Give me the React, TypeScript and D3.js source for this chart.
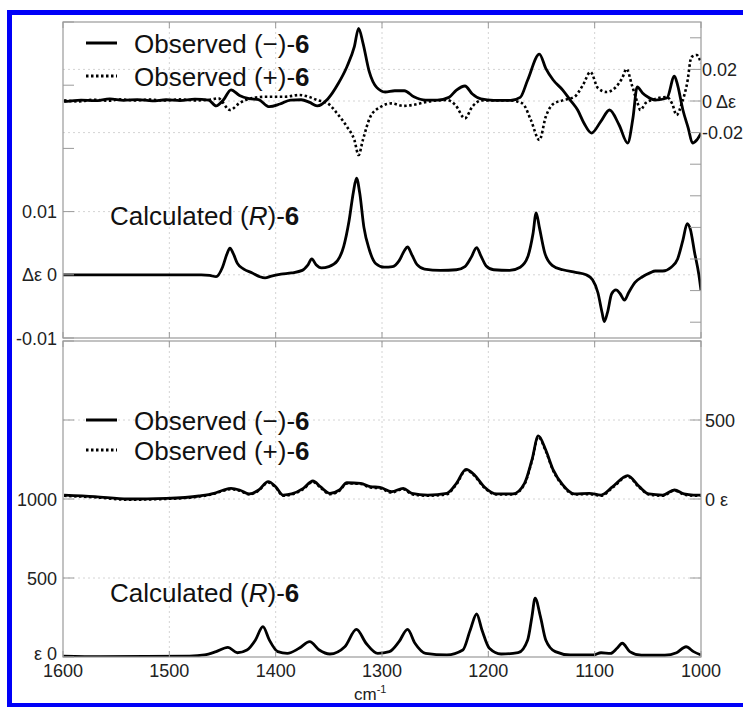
import React from 'react';
import * as d3 from 'd3';

// ---------- data (wavenumber cm-1, value) ----------
const xTicks = [1600, 1500, 1400, 1300, 1200, 1100, 1000];
const cdCalcTicks = [-0.01, 0, 0.01, 0.02, 0.03, 0.04];
const cdObsTicks = [-0.14, -0.12, -0.1, -0.08, -0.06, -0.04, -0.02, 0, 0.02, 0.04];
const irCalcTicks = [0, 500, 1000, 1500, 2000];
const irObsTicks = [-1000, -500, 0, 500, 1000];

const cdCalcLabelVals = [0.01, 0, -0.01];
const cdCalcLabels = ['0.01', 'Δε 0', '-0.01'];
const cdObsLabelVals = [0.02, 0, -0.02];
const cdObsLabels = ['0.02', '0 Δε', '-0.02'];
const irCalcLabelVals = [1000, 500, 0];
const irCalcLabels = ['1000', '500', 'ε 0'];
const irObsLabelVals = [500, 0];
const irObsLabels = ['500', '0 ε'];

const obsMinusCD: [number, number][] = [
  [1599, -0.0004], [1583, 0.0006], [1570, 0.0002], [1556, 0.0013], [1543, 0.0004], [1530, 0.0009],
  [1516, 0.0001], [1503, 0.0008], [1490, 0.0002], [1476, 0.0012], [1463, 0.0006], [1456, -0.0031],
  [1449, 0.0008], [1442, 0.0071], [1434, 0.0035], [1425, 0.0015], [1416, 0.0008], [1406, -0.0036],
  [1396, -0.0019], [1386, 0.0006], [1376, 0.0008], [1368, -0.0009], [1361, -0.0031], [1351, 0.0013],
  [1341, 0.0112], [1333, 0.0217], [1326, 0.0344], [1322, 0.046], [1318, 0.037], [1312, 0.0186],
  [1305, 0.0086], [1297, 0.0057], [1288, 0.0065], [1279, 0.0065], [1270, 0.0027], [1259, 0.0006],
  [1248, 0.0006], [1237, 0.0023], [1230, 0.0069], [1222, 0.0095], [1215, 0.0044], [1207, 0.0013],
  [1195, 0.0004], [1179, 0.0004], [1170, 0.0023], [1163, 0.0133], [1152, 0.0297], [1146, 0.0207],
  [1139, 0.0133], [1130, 0.0069], [1123, 0.0006], [1116, -0.0057], [1110, -0.0141], [1103, -0.0203],
  [1094, -0.0127], [1086, -0.0057], [1077, -0.0152], [1069, -0.0266], [1064, -0.0108], [1060, 0.0089],
  [1055, 0.0051], [1050, 0.0025], [1043, 0.0006], [1032, 0.0019], [1025, 0.0158], [1022, 0.0101],
  [1017, -0.0057], [1012, -0.0171], [1008, -0.0266], [1004, -0.0247], [1000, -0.0203],
];

const obsPlusCD: [number, number][] = [
  [1599, 0.0004], [1585, -0.0003], [1572, 0.0008], [1558, 0.0002], [1545, 0.001], [1532, 0.0004],
  [1518, 0.0009], [1505, 0.0003], [1490, 0.001], [1476, 0.0004], [1462, 0.0008], [1454, 0.0017],
  [1443, -0.0057], [1434, -0.0013], [1423, 0.0017], [1409, 0.0027], [1391, 0.0027], [1378, 0.0038],
  [1369, 0.0027], [1361, 0.0006], [1351, -0.0015], [1341, -0.0089], [1333, -0.0162], [1326, -0.0247],
  [1322, -0.0342], [1318, -0.0247], [1311, -0.01], [1302, -0.004], [1291, -0.0015], [1280, -0.0031],
  [1271, -0.0025], [1257, -0.0004], [1239, 0.0006], [1231, -0.0025], [1222, -0.011], [1215, -0.0035],
  [1206, 0.0004], [1181, 0.0004], [1168, -0.0015], [1160, -0.012], [1152, -0.0247], [1146, -0.01],
  [1139, -0.0019], [1130, 0.0004], [1119, 0.0027], [1111, 0.0101], [1104, 0.0184], [1097, 0.0082],
  [1089, 0.0057], [1081, 0.0082], [1074, 0.0146], [1070, 0.0203], [1065, 0.0101], [1060, -0.0006],
  [1057, -0.0057], [1052, -0.0013], [1043, 0.0013], [1032, 0.0025], [1027, -0.0019], [1023, -0.0089],
  [1018, -0.0013], [1013, 0.0114], [1009, 0.0278], [1004, 0.0291], [1000, 0.024],
];

const calcCD: [number, number][] = [
  [1600, 0], [1470, 0], [1462, -0.0001], [1456, -0.0003], [1450, 0.0012], [1446, 0.0032],
  [1443, 0.0042], [1440, 0.0034], [1436, 0.0018], [1430, 0.0009], [1422, 0.0003], [1415, -0.0003],
  [1410, -0.0005], [1404, -0.0002], [1395, 0.0001], [1385, 0.0003], [1375, 0.0007], [1370, 0.0015],
  [1366, 0.0025], [1362, 0.0016], [1357, 0.0011], [1350, 0.0013], [1342, 0.0022], [1336, 0.0045],
  [1331, 0.0085], [1327, 0.013], [1324, 0.0153], [1321, 0.013], [1317, 0.0075], [1312, 0.004],
  [1306, 0.0018], [1298, 0.0012], [1290, 0.0013], [1284, 0.0022], [1279, 0.0038], [1276, 0.0044],
  [1272, 0.0032], [1267, 0.0016], [1260, 0.0009], [1245, 0.0007], [1230, 0.0008], [1222, 0.0013],
  [1216, 0.0028], [1211, 0.0043], [1207, 0.003], [1202, 0.0014], [1195, 0.0008], [1180, 0.0007],
  [1170, 0.0012], [1163, 0.0028], [1158, 0.0065], [1155, 0.0098], [1152, 0.0075], [1147, 0.0035],
  [1140, 0.0015], [1130, 0.0008], [1118, 0.0004], [1108, 0.0], [1102, -0.0008], [1097, -0.0028],
  [1093, -0.006], [1091, -0.0074], [1088, -0.006], [1084, -0.003], [1080, -0.0024], [1076, -0.003],
  [1072, -0.004], [1068, -0.0028], [1062, -0.0012], [1055, -0.0003], [1048, 0.0003], [1043, 0.0006],
  [1036, 0.0006], [1028, 0.0012], [1022, 0.0025], [1017, 0.0055], [1013, 0.0081], [1010, 0.0072],
  [1006, 0.0035], [1002, 0.0], [1000, -0.0025],
];

const obsMinusIR: [number, number][] = [
  [1599, 25], [1570, 15], [1539, 0], [1503, 4], [1472, 19], [1458, 36], [1449, 57], [1442, 67],
  [1434, 57], [1425, 32], [1416, 57], [1407, 110], [1400, 78], [1393, 25], [1385, 32], [1374, 67],
  [1365, 114], [1358, 78], [1349, 36], [1340, 57], [1333, 103], [1320, 99], [1311, 78], [1302, 74],
  [1291, 46], [1280, 67], [1272, 36], [1257, 25], [1239, 36], [1230, 99], [1221, 188], [1213, 152],
  [1204, 78], [1192, 32], [1177, 32], [1166, 99], [1159, 247], [1153, 399], [1146, 310], [1139, 184],
  [1130, 89], [1119, 32], [1105, 36], [1094, 25], [1083, 78], [1069, 148], [1058, 78], [1049, 32],
  [1036, 25], [1025, 57], [1016, 32], [1007, 25], [1000, 25],
];

const obsPlusIR: [number, number][] = [
  [1599, 20], [1570, 10], [1539, -5], [1503, 0], [1472, 15], [1458, 32], [1449, 52], [1442, 62],
  [1434, 52], [1425, 28], [1416, 52], [1407, 104], [1400, 72], [1393, 20], [1385, 28], [1374, 62],
  [1365, 108], [1358, 72], [1349, 30], [1340, 52], [1333, 98], [1320, 95], [1311, 72], [1302, 68],
  [1291, 40], [1280, 62], [1272, 30], [1257, 20], [1239, 30], [1230, 92], [1221, 182], [1213, 146],
  [1204, 72], [1192, 28], [1177, 28], [1166, 92], [1159, 240], [1153, 392], [1146, 302], [1139, 178],
  [1130, 84], [1119, 28], [1105, 30], [1094, 20], [1083, 72], [1069, 142], [1058, 72], [1049, 28],
  [1036, 20], [1025, 52], [1016, 28], [1007, 20], [1000, 20],
];

const calcIR: [number, number][] = [
  [1600, 6], [1565, 2], [1481, 6], [1467, 13], [1456, 34], [1445, 61], [1436, 27], [1427, 44],
  [1419, 108], [1412, 192], [1406, 108], [1398, 34], [1389, 23], [1378, 55], [1368, 97], [1359, 44],
  [1349, 19], [1335, 65], [1324, 175], [1315, 87], [1304, 23], [1293, 34], [1284, 97], [1276, 175],
  [1269, 87], [1259, 23], [1239, 13], [1224, 44], [1217, 171], [1211, 272], [1206, 171], [1199, 55],
  [1188, 19], [1172, 27], [1163, 108], [1159, 255], [1156, 372], [1151, 255], [1146, 108], [1137, 34],
  [1123, 13], [1101, 13], [1094, 27], [1085, 23], [1079, 55], [1074, 87], [1067, 34], [1056, 11],
  [1034, 11], [1023, 27], [1014, 65], [1007, 34], [1000, 13],
];

// ---------- component ----------
const FONT = "'Liberation Sans', Arial, Helvetica, sans-serif";

export default function App() {
  const W = 743, H = 707;
  const L = 63, R = 701, T1 = 22, B1 = 338, T2 = 341, B2 = 657;
  const x = d3.scaleLinear().domain([1600, 1000]).range([L, R]);
  const yCdCalc = d3.scaleLinear().domain([-0.01, 0.04]).range([B1, T1]);
  const yCdObs = d3.scaleLinear().domain([-0.15, 0.05]).range([B1, T1]);
  const yIrCalc = d3.scaleLinear().domain([0, 2000]).range([B2, T2]);
  const yIrObs = d3.scaleLinear().domain([-1000, 1000]).range([B2, T2]);
  const mk = (ys: d3.ScaleLinear<number, number>) =>
    d3.line<[number, number]>().x(d => x(d[0])).y(d => ys(d[1])).curve(d3.curveMonotoneX);

  const frame = '#9a9a9a';
  const grid = '#d4d4d4';
  const tickLen = 11;
  const curveW = 2.8;

  const legend = (y0: number, y1: number) => (
    <g fontFamily={FONT} fontSize={26} fill="#111">
      <line x1={86} x2={117} y1={y0} y2={y0} stroke="#000" strokeWidth={3} />
      <text x={134} y={y0 + 9.5}>Observed (−)-<tspan fontWeight="bold">6</tspan></text>
      <line x1={86} x2={117} y1={y1} y2={y1} stroke="#000" strokeWidth={3} strokeDasharray="2.5 2.5" />
      <text x={134} y={y1 + 9.5}>Observed (+)-<tspan fontWeight="bold">6</tspan></text>
    </g>
  );
  const calcLabel = (y: number) => (
    <text x={110} y={y + 9.5} fontFamily={FONT} fontSize={26} fill="#111">
      Calculated (<tspan fontStyle="italic">R</tspan>)-<tspan fontWeight="bold">6</tspan>
    </text>
  );

  const vGrid = (t: number, b: number) =>
    xTicks.slice(1, -1).map(v => (
      <line key={`g${t}-${v}`} x1={x(v)} x2={x(v)} y1={t} y2={b} stroke={grid} strokeWidth={1} strokeDasharray="2 3" />
    ));
  const hGrid = (ys: number[], key: string) =>
    ys.map((yy, i) => (
      <line key={`${key}${i}`} x1={L} x2={R} y1={yy} y2={yy} stroke={grid} strokeWidth={1} strokeDasharray="2 3" />
    ));
  const xTickMarks = (t: number, b: number) =>
    xTicks.map(v => (
      <g key={`xt${t}-${v}`}>
        <line x1={x(v)} x2={x(v)} y1={b} y2={b - 6} stroke={frame} strokeWidth={1} />
        <line x1={x(v)} x2={x(v)} y1={t} y2={t + 6} stroke={frame} strokeWidth={1} />
      </g>
    ));

  return (
    <div style={{ position: 'absolute', left: 0, top: 0 }}>
      <svg width={W} height={H} viewBox={`0 0 ${W} ${H}`} style={{ display: 'block', background: '#fff' }}>
        <defs>
          <clipPath id="c1"><rect x={L} y={T1} width={R - L} height={B1 - T1} /></clipPath>
          <clipPath id="c2"><rect x={L} y={T2} width={R - L} height={B2 - T2} /></clipPath>
        </defs>
        <rect x={0} y={0} width={W} height={H} fill="#fff" />

        {/* grids */}
        {vGrid(T1, B1)}
        {vGrid(T2, B2)}
        {hGrid([yCdObs(0.02), yCdObs(0), yCdObs(-0.02), yCdCalc(0.01), yCdCalc(0)], 'h1')}
        {hGrid([yIrObs(500), yIrObs(0), yIrCalc(500)], 'h2')}

        {/* curves */}
        <g clipPath="url(#c1)" fill="none" stroke="#000" strokeLinejoin="round">
          <path d={mk(yCdCalc)(calcCD) || ''} strokeWidth={curveW} />
          <path d={mk(yCdObs)(obsPlusCD) || ''} strokeWidth={2.6} strokeDasharray="2.5 2.5" />
          <path d={mk(yCdObs)(obsMinusCD) || ''} strokeWidth={curveW} />
        </g>
        <g clipPath="url(#c2)" fill="none" stroke="#000" strokeLinejoin="round">
          <path d={mk(yIrCalc)(calcIR) || ''} strokeWidth={curveW} />
          <path d={mk(yIrObs)(obsMinusIR) || ''} strokeWidth={curveW} />
          <path d={mk(yIrObs)(obsPlusIR) || ''} strokeWidth={2.4} strokeDasharray="2.5 2.5" />
        </g>

        {/* frames */}
        <rect x={L} y={T1} width={R - L} height={B1 - T1} fill="none" stroke={frame} strokeWidth={1.2} />
        <rect x={L} y={T2} width={R - L} height={B2 - T2} fill="none" stroke={frame} strokeWidth={1.2} />

        {/* ticks */}
        {xTickMarks(T1, B1)}
        {xTickMarks(T2, B2)}
        {cdCalcTicks.map(v => (
          <line key={`cc${v}`} x1={L} x2={L + tickLen} y1={yCdCalc(v)} y2={yCdCalc(v)} stroke={frame} strokeWidth={1} />
        ))}
        {cdObsTicks.map(v => (
          <line key={`co${v}`} x1={R} x2={R - tickLen} y1={yCdObs(v)} y2={yCdObs(v)} stroke={frame} strokeWidth={1} />
        ))}
        {irCalcTicks.map(v => (
          <line key={`ic${v}`} x1={L} x2={L + tickLen} y1={yIrCalc(v)} y2={yIrCalc(v)} stroke={frame} strokeWidth={1} />
        ))}
        {irObsTicks.map(v => (
          <line key={`io${v}`} x1={R} x2={R - tickLen} y1={yIrObs(v)} y2={yIrObs(v)} stroke={frame} strokeWidth={1} />
        ))}

        {/* tick labels */}
        <g fontFamily={FONT} fontSize={18} fill="#222">
          {cdCalcLabels.map((t, i) => (
            <text key={`lc${i}`} x={57} y={yCdCalc(cdCalcLabelVals[i]) + 6.5} textAnchor="end">{t}</text>
          ))}
          {cdObsLabels.map((t, i) => (
            <text key={`lo${i}`} x={702} y={yCdObs(cdObsLabelVals[i]) + 6.5}>{t}</text>
          ))}
          {irCalcLabels.map((t, i) => (
            <text key={`li${i}`} x={57} y={Math.min(yIrCalc(irCalcLabelVals[i]), 653) + 6.5} textAnchor="end">{t}</text>
          ))}
          {irObsLabels.map((t, i) => (
            <text key={`lj${i}`} x={705} y={yIrObs(irObsLabelVals[i]) + 6.5}>{t}</text>
          ))}
          {xTicks.map(v => (
            <text key={`xl${v}`} x={x(v)} y={677} textAnchor="middle">{v}</text>
          ))}
          <text x={354} y={700} fontSize={17}>cm<tspan fontSize={11} dy={-7}>-1</tspan></text>
        </g>

        {/* legends and titles */}
        {legend(43, 76)}
        {calcLabel(215)}
        {legend(420, 450)}
        {calcLabel(592)}

        {/* blue border */}
        <rect x={7} y={10} width={5} height={697} fill="#0000f8" />
        <rect x={7} y={10} width={736} height={5} fill="#0000f8" />
        <rect x={7} y={703} width={736} height={4} fill="#0000f8" />
      </svg>
    </div>
  );
}
